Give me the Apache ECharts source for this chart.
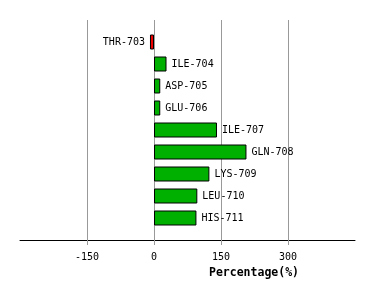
<!DOCTYPE html>
<html>
<head>
<meta charset="utf-8">
<script src="https://cdn.jsdelivr.net/npm/echarts@6/dist/echarts.min.js"></script>
<style>
html,body{margin:0;padding:0;background:#fff;}
#chart{width:374px;height:300px;}
</style>
</head>
<body>
<div id="chart"></div>
<script>
var categories = ['THR-703','ILE-704','ASP-705','GLU-706','ILE-707','GLN-708','LYS-709','LEU-710','HIS-711'];
var values = [-9, 28, 14, 14, 141, 207, 124, 97, 95];
var tickValues = [-150, 0, 150, 300];
var axisTitle = 'Percentage(%)';

var font = 'DejaVu Sans Mono';
var chart = echarts.init(document.getElementById('chart'), null, {renderer: 'canvas'});
var cats = [''].concat(categories).concat(['']);
var vals = [null].concat(values).concat([null]);

chart.setOption({
  animation: false,
  backgroundColor: '#ffffff',
  title: {
    text: axisTitle,
    left: 209, top: 267, padding: 0,
    textStyle: {fontFamily: font, fontSize: 11.5, fontWeight: 'bold', color: '#000'}
  },
  grid: {left: 20, right: 19, top: 20, bottom: 60, containLabel: false},
  xAxis: {
    type: 'value',
    min: -300, max: 450, interval: 150,
    axisLine: {show: true, onZero: false, lineStyle: {color: '#000', width: 1}},
    axisTick: {show: true, length: 5, customValues: tickValues, lineStyle: {color: '#999'}},
    axisLabel: {customValues: tickValues, fontFamily: font, fontSize: 10, color: '#000', margin: 12},
    splitLine: {show: true, lineStyle: {color: '#999', width: 1}}
  },
  yAxis: {
    type: 'category',
    data: cats,
    inverse: true,
    boundaryGap: false,
    show: false
  },
  series: [{
    type: 'bar',
    data: vals.map(function (v) {
      if (v !== null && v < 0) return {value: v, label: {position: 'left'}};
      return v;
    }),
    barWidth: 15,
    itemStyle: {
      color: function (p) { return p.value < 0 ? '#ee0000' : '#00b000'; },
      borderColor: '#000', borderWidth: 1, borderRadius: 0
    },
    label: {
      show: true,
      position: 'right',
      distance: 5,
      fontFamily: font, fontSize: 10, color: '#000',
      formatter: function (p) { return p.name; }
    }
  }]
});
</script>
</body>
</html>
